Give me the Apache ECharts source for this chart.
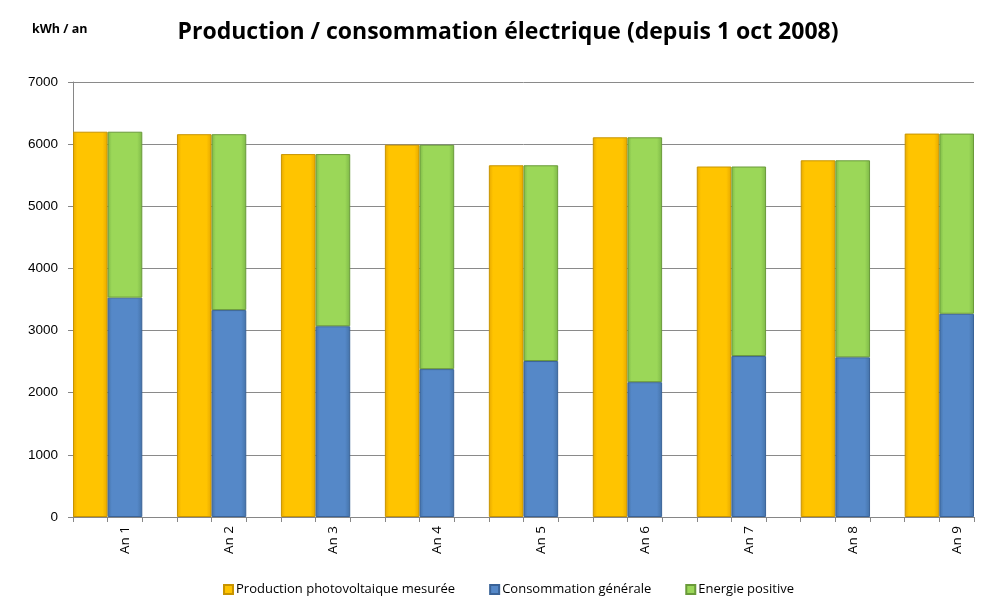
<!DOCTYPE html>
<html>
<head>
<meta charset="utf-8">
<script src="https://cdn.jsdelivr.net/npm/echarts@6/dist/echarts.min.js"></script>
<style>
html,body{margin:0;padding:0;background:#fff;}
#chart{width:990px;height:608px;}
</style>
</head>
<body>
<div id="chart"></div>
<script>
var years = ['An 1','An 2','An 3','An 4','An 5','An 6','An 7','An 8','An 9'];
var production = [6200, 6160, 5840, 5990, 5660, 6110, 5640, 5740, 6170];
var consommation = [3530, 3330, 3070, 2380, 2510, 2170, 2590, 2570, 3270];
var energiePositive = [2670, 2830, 2770, 3610, 3150, 3940, 3050, 3170, 2900];
var yTicks = [0, 1000, 2000, 3000, 4000, 5000, 6000, 7000];

// Category slots: [production, stacked, blank] per year (last blank dropped)
var cats = [], prodData = [], consData = [], energData = [];
years.forEach(function (y, i) {
  cats.push(y + '_p'); prodData.push(production[i]); consData.push('-'); energData.push('-');
  cats.push(y); prodData.push('-'); consData.push(consommation[i]); energData.push(energiePositive[i]);
  if (i < years.length - 1) { cats.push(y + '_g'); prodData.push('-'); consData.push('-'); energData.push('-'); }
});

function grad(edge, mid) {
  return new echarts.graphic.LinearGradient(0, 0, 1, 0, [
    {offset: 0, color: edge}, {offset: 0.12, color: mid},
    {offset: 0.85, color: mid}, {offset: 1, color: edge}
  ]);
}

var chart = echarts.init(document.getElementById('chart'), null, {renderer: 'canvas'});
chart.setOption({
  animation: false,
  backgroundColor: '#ffffff',
  title: [{
    text: 'Production / consommation électrique (depuis 1 oct 2008)',
    left: 503, top: 16, textAlign: 'center',
    textStyle: {fontFamily: 'Open Sans', fontWeight: 'bold', fontSize: 23, color: '#000'}
  }, {
    text: 'kWh / an', left: 27, top: 18,
    textStyle: {fontFamily: 'Open Sans', fontWeight: 'bold', fontSize: 12.5, color: '#000'}
  }],
  legend: {
    left: 218, top: 578,
    itemWidth: 9, itemHeight: 9, itemGap: 34,
    icon: 'rect',
    textStyle: {fontFamily: 'Open Sans', fontSize: 13, color: '#000', padding: [0, 0, 0, -2]},
    data: ['Production photovoltaique mesurée', 'Consommation générale', 'Energie positive']
  },
  grid: {left: 73, right: 16, top: 82, bottom: 91, containLabel: false},
  xAxis: {
    type: 'category',
    data: cats,
    boundaryGap: true,
    axisLine: {lineStyle: {color: '#868686', width: 1}},
    axisTick: {show: true, interval: 0, length: 5, lineStyle: {color: '#868686'}},
    axisLabel: {
      interval: 0, rotate: 90, margin: 9,
      fontFamily: 'Open Sans', fontSize: 13.5, color: '#000',
      formatter: function (v) { return (v.indexOf('_') >= 0) ? '' : v; }
    }
  },
  yAxis: {
    type: 'value',
    min: 0, max: 7000, interval: 1000,
    axisLine: {show: true, lineStyle: {color: '#868686', width: 1}},
    axisTick: {show: true, length: 5, lineStyle: {color: '#868686'}},
    splitLine: {lineStyle: {color: '#8a8a8a', width: 1}},
    axisLabel: {
      margin: 15, fontFamily: 'Liberation Sans', fontSize: 13.5, color: '#000',
      formatter: function (v) { return yTicks.indexOf(v) >= 0 ? String(v) : ''; }
    }
  },
  series: [{
    name: 'Production photovoltaique mesurée',
    type: 'bar',
    data: prodData,
    barGap: '-100%', barCategoryGap: '0%',
    itemStyle: {color: grad('#E6A800', '#FFC400'), borderColor: '#C89400', borderWidth: 1}
  }, {
    name: 'Consommation générale',
    type: 'bar', stack: 'total',
    data: consData,
    barGap: '-100%', barCategoryGap: '0%',
    itemStyle: {color: grad('#4472A8', '#5588C8'), borderColor: '#3A6398', borderWidth: 1}
  }, {
    name: 'Energie positive',
    type: 'bar', stack: 'total',
    data: energData,
    barGap: '-100%', barCategoryGap: '0%',
    itemStyle: {color: grad('#7DB847', '#9BD758'), borderColor: '#6A9A3A', borderWidth: 1}
  }],
  color: ['#FFC400', '#5588C8', '#9BD758']
});
</script>
</body>
</html>
